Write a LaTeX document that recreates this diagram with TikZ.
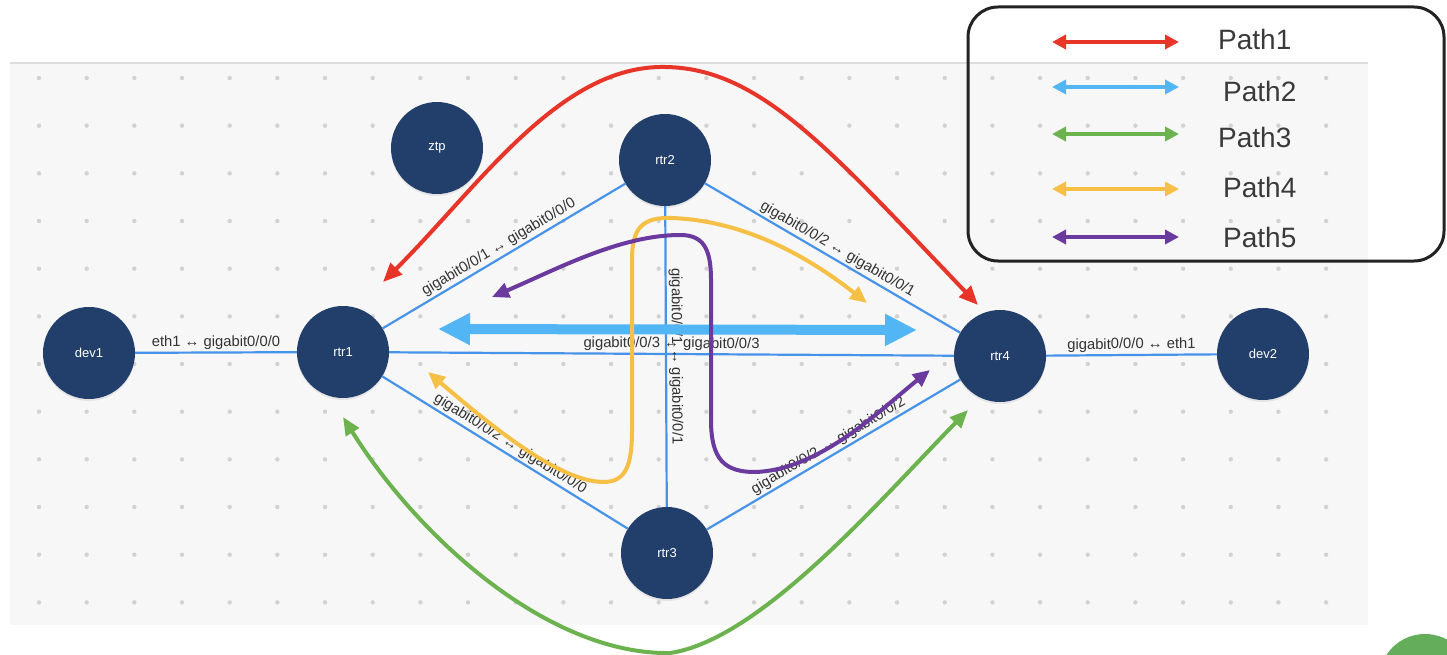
\documentclass[tikz,border=0pt]{standalone}
\usepackage{fontspec}
\setmainfont{Liberation Sans}
\usetikzlibrary{arrows.meta,shadows}
\definecolor{nodefill}{HTML}{223F6C}
\definecolor{linkblue}{HTML}{4793EA}
\definecolor{labelgray}{HTML}{333333}
\definecolor{legendtext}{HTML}{3A3A3A}
\definecolor{panelgray}{HTML}{F7F7F7}
\definecolor{panelline}{HTML}{DDDDDD}
\definecolor{dotgray}{HTML}{D2D2D2}
\definecolor{pathred}{HTML}{E8352A}
\definecolor{pathblue}{HTML}{52B6F5}
\definecolor{pathgreen}{HTML}{6CB24F}
\definecolor{pathyellow}{HTML}{F6BF45}
\definecolor{pathpurple}{HTML}{6A3A9E}
\definecolor{fabgreen}{HTML}{64AD5A}
\definecolor{legendblack}{HTML}{222222}
\tikzset{
  netnode/.style={circle, fill=nodefill, minimum size=92pt, inner sep=0pt, text=white,
    font=\fontsize{13}{13}\selectfont,
    drop shadow={opacity=0.15, shadow xshift=0pt, shadow yshift=-2pt}},
  link/.style={draw=linkblue, line width=2.2pt},
  lbl/.style={font=\fontsize{14.8}{14.8}\selectfont, text=labelgray, sloped, above, inner sep=2pt},
  pathline/.style={line width=4pt},
  legarrow/.style={line width=3.5pt, {Triangle[length=14pt,width=14pt]}-{Triangle[length=14pt,width=14pt]}},
  legtext/.style={anchor=base west, inner sep=0pt, text=legendtext, font=\fontsize{28}{28}\selectfont},
}
\begin{document}
\begin{tikzpicture}[x=1pt,y=-1pt]
\useasboundingbox (0,0) rectangle (1447,655);
% panel
\fill[panelgray] (10,63) rectangle (1368,625);
\draw[panelline, line width=1.5pt] (10,63) -- (1368,63);
\foreach \i in {0,...,27}{
  \foreach \j in {0,...,11}{
    \fill[dotgray] ({39+47.67*\i},{78+47.67*\j}) circle (2.2pt);
  }
}
% nodes
\node[netnode] (dev1) at (89,353) {dev1};
\node[netnode] (rtr1) at (343,352) {rtr1};
\node[netnode] (ztp) at (437,148) {ztp};
\node[netnode] (rtr2) at (665,160) {rtr2};
\node[netnode] (rtr3) at (667,553) {rtr3};
\node[netnode] (rtr4) at (1000,356) {rtr4};
\node[netnode] (dev2) at (1263,354) {dev2};
% links
\draw[link] (dev1) -- node[lbl] {eth1 ↔ gigabit0/0/0} (rtr1);
\draw[link] (rtr1) -- node[lbl] {gigabit0/0/1 ↔ gigabit0/0/0} (rtr2);
\draw[link] (rtr1) -- node[lbl] {gigabit0/0/3 ↔ gigabit0/0/3} (rtr4);
\draw[link] (rtr2) -- node[lbl] {gigabit0/0/1 ↔ gigabit0/0/1} (rtr3);
\draw[link] (rtr2) -- node[lbl] {gigabit0/0/2 ↔ gigabit0/0/1} (rtr4);
\draw[link] (rtr1) -- node[lbl] {gigabit0/0/2 ↔ gigabit0/0/0} (rtr3);
\draw[link] (rtr3) -- node[lbl] {gigabit0/0/2 ↔ gigabit0/0/2} (rtr4);
\draw[link] (rtr4) -- node[lbl] {gigabit0/0/0 ↔ eth1} (dev2);
% path end points
\coordinate (r1a) at (383,282);
\coordinate (r1b) at (978,305);
\coordinate (b1) at (438,329);
\coordinate (b2) at (917,330);
\coordinate (g1) at (343,417);
\coordinate (g2) at (968,410);
\coordinate (y1) at (428,372);
\coordinate (y2) at (867,303);
\coordinate (p1) at (492,297);
\coordinate (p2) at (930,370);
% Path1 red
\draw[pathline, draw=pathred, {Triangle[length=19pt,width=16pt]}-{Triangle[length=19pt,width=16pt]}]
  (r1a) .. controls (480,185) and (560,65) .. (665,67) .. controls (760,68) and (830,150) .. (r1b);
% Path2 blue
\draw[line width=10pt, draw=pathblue, {Triangle[length=32pt,width=30pt]}-{Triangle[length=32pt,width=30pt]}] (b1) -- (b2);
% Path3 green
\draw[pathline, draw=pathgreen, {Triangle[length=18pt,width=15pt]}-{Triangle[length=18pt,width=15pt]}]
  (g1) .. controls (420,540) and (550,655) .. (670,653) .. controls (760,640) and (880,500) .. (g2);
% Path4 yellow
\draw[pathline, draw=pathyellow, {Triangle[length=17pt,width=15pt]}-{Triangle[length=17pt,width=15pt]}]
  (y1) .. controls (490,425) and (560,483) .. (605,482) .. controls (626,481) and (632,465) .. (632,430)
  -- (632,260) .. controls (632,228) and (642,217) .. (672,218) .. controls (750,221) and (815,262) .. (y2);
% Path5 purple
\draw[pathline, draw=pathpurple, {Triangle[length=17pt,width=15pt]}-{Triangle[length=17pt,width=15pt]}]
  (p1) .. controls (555,270) and (620,235) .. (680,235) .. controls (703,235) and (711,248) .. (711,280)
  -- (711,420) .. controls (711,460) and (725,472) .. (755,472) .. controls (820,470) and (880,410) .. (p2);
% legend
\node[draw=legendblack, line width=3pt, rounded corners=30pt, minimum width=476pt, minimum height=254pt, inner sep=0pt] (legend) at (1206,134) {};
\coordinate (l1a) at (1052,42);  \coordinate (l1b) at (1179,42);
\coordinate (l2a) at (1052,87);  \coordinate (l2b) at (1179,87);
\coordinate (l3a) at (1052,134); \coordinate (l3b) at (1179,134);
\coordinate (l4a) at (1052,189); \coordinate (l4b) at (1179,189);
\coordinate (l5a) at (1052,237); \coordinate (l5b) at (1179,237);
\draw[legarrow, draw=pathred] (l1a) -- (l1b);
\draw[legarrow, draw=pathblue] (l2a) -- (l2b);
\draw[legarrow, draw=pathgreen] (l3a) -- (l3b);
\draw[legarrow, draw=pathyellow] (l4a) -- (l4b);
\draw[legarrow, draw=pathpurple] (l5a) -- (l5b);
\node[legtext] (t1) at (1218,50) {Path1};
\node[legtext] (t2) at (1223,102) {Path2};
\node[legtext] (t3) at (1218,148) {Path3};
\node[legtext] (t4) at (1223,197) {Path4};
\node[legtext] (t5) at (1223,247) {Path5};
% floating green button
\node[circle, fill=fabgreen, minimum size=92pt, drop shadow={opacity=0.2, shadow xshift=0pt, shadow yshift=-2pt}] (fab) at (1425,680) {};
\end{tikzpicture}
\end{document}
